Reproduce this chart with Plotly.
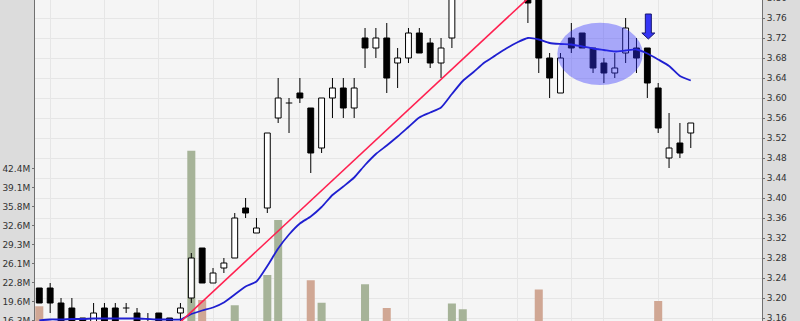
import plotly.graph_objects as go

# ---------------- data ----------------
idx = list(range(61))
opens = [3.22, 3.22, 3.19, 3.18, 3.16, 3.15, 3.18, 3.18, 3.18, 3.17,
         3.15, 3.17, 3.16, 3.17, 3.20, 3.30, 3.23, 3.26, 3.28, 3.38,
         3.33, 3.38, 3.56, 3.59, 3.61, 3.58, 3.50, 3.60, 3.62, 3.58,
         3.72, 3.70, 3.72, 3.67, 3.68, 3.73, 3.71, 3.67, 3.72, 3.82,
         3.86, 3.90, 3.93, 3.92, 3.89, 3.84, 3.81, 3.68, 3.61, 3.72,
         3.73, 3.70, 3.67, 3.65, 3.69, 3.70, 3.70, 3.62, 3.48, 3.51, 3.53]
highs = [3.22, 3.23, 3.20, 3.20, 3.16, 3.19, 3.19, 3.19, 3.19, 3.18,
         3.17, 3.17, 3.16, 3.19, 3.29, 3.30, 3.26, 3.28, 3.37, 3.40,
         3.36, 3.53, 3.64, 3.60, 3.64, 3.58, 3.60, 3.64, 3.64, 3.64,
         3.74, 3.74, 3.75, 3.70, 3.74, 3.74, 3.72, 3.72, 3.84, 3.88,
         3.92, 3.95, 3.98, 3.96, 3.92, 3.85, 3.82, 3.69, 3.69, 3.75,
         3.73, 3.70, 3.68, 3.69, 3.76, 3.72, 3.70, 3.63, 3.57, 3.55, 3.55]
lows = [3.19, 3.17, 3.13, 3.13, 3.13, 3.14, 3.13, 3.14, 3.17, 3.14,
        3.13, 3.13, 3.13, 3.15, 3.19, 3.23, 3.23, 3.25, 3.28, 3.36,
        3.33, 3.37, 3.55, 3.53, 3.59, 3.45, 3.49, 3.56, 3.56, 3.56,
        3.66, 3.68, 3.61, 3.62, 3.67, 3.69, 3.66, 3.64, 3.70, 3.81,
        3.85, 3.88, 3.90, 3.87, 3.83, 3.75, 3.65, 3.60, 3.61, 3.69,
        3.70, 3.65, 3.63, 3.64, 3.67, 3.65, 3.60, 3.53, 3.46, 3.48, 3.50]
closes = [3.19, 3.19, 3.14, 3.15, 3.14, 3.17, 3.14, 3.15, 3.18, 3.15,
          3.14, 3.14, 3.14, 3.18, 3.28, 3.23, 3.25, 3.27, 3.36, 3.37,
          3.34, 3.53, 3.60, 3.59, 3.60, 3.49, 3.60, 3.62, 3.58, 3.62,
          3.70, 3.72, 3.64, 3.68, 3.73, 3.69, 3.67, 3.70, 3.82, 3.86,
          3.90, 3.93, 3.92, 3.89, 3.85, 3.79, 3.68, 3.64, 3.68, 3.70,
          3.70, 3.66, 3.65, 3.66, 3.74, 3.68, 3.63, 3.54, 3.50, 3.49, 3.55]
volume_m = [18.8, 14.0, 12.5, 11.0, 9.5, 10.0, 11.5, 10.5, 9.0, 10.0,
            8.5, 9.5, 8.0, 13.5, 45.5, 19.9, 14.5, 12.0, 19.0, 15.0,
            13.0, 24.2, 33.6, 15.5, 14.0, 23.3, 19.4, 13.0, 12.5, 14.0,
            22.6, 14.5, 18.5, 12.0, 15.0, 13.5, 12.0, 14.0, 19.3, 18.3,
            15.0, 14.0, 13.0, 15.5, 14.5, 16.0, 21.7, 15.0, 13.5, 12.5,
            11.0, 12.0, 10.5, 11.5, 15.5, 13.0, 16.0, 19.7, 15.0, 12.0, 11.0]
ma = [3.155, 3.157, 3.157, 3.158, 3.158, 3.159, 3.159, 3.159, 3.159, 3.159,
      3.158, 3.157, 3.157, 3.157, 3.168, 3.175, 3.181, 3.191, 3.207, 3.223,
      3.233, 3.264, 3.299, 3.327, 3.349, 3.363, 3.382, 3.406, 3.423, 3.441,
      3.466, 3.488, 3.505, 3.523, 3.542, 3.561, 3.571, 3.581, 3.608, 3.634,
      3.652, 3.671, 3.685, 3.699, 3.711, 3.720, 3.717, 3.710, 3.708, 3.707,
      3.703, 3.699, 3.696, 3.693, 3.695, 3.697, 3.689, 3.677, 3.664, 3.644, 3.635]
trend_x = [13, 45]
trend_y = [3.152, 3.799]

vol_tickvals = [16.3, 19.5625, 22.825, 26.0875, 29.35, 32.6125, 35.875, 39.1375, 42.4]
vol_ticktext = ["16.3M", "19.6M", "22.8M", "26.1M", "29.3M", "32.6M", "35.8M", "39.1M", "42.4M"]
price_ticks = [3.16, 3.20, 3.24, 3.28, 3.32, 3.36, 3.40, 3.44, 3.48, 3.52,
               3.56, 3.60, 3.64, 3.68, 3.72, 3.76]
grid_x = [1, 6, 11, 16, 20, 24, 34, 39, 44, 49, 52, 57, 62]

# ---------------- styles ----------------
UP_VOL = "#a6b398"
DN_VOL = "#d0a794"
FONT = dict(family="DejaVu Sans", size=9, color="#333333")
GRID = "#e6e6e6"
AXIS = "#707070"
BODY_W = 0.54

# volume colour: close vs previous close
vol_colors = []
for i in idx:
    ref = closes[i - 1] if i > 0 else opens[i]
    vol_colors.append(UP_VOL if closes[i] >= ref else DN_VOL)

# wick segments (outside bodies) and doji lines
wx, wy = [], []
dx, dy = [], []
bx, bh, bb, bc = [], [], [], []
for i in idx:
    o, h, l, c = opens[i], highs[i], lows[i], closes[i]
    top, bot = max(o, c), min(o, c)
    if h > top:
        wx += [i, i, None]; wy += [top, h, None]
    if l < bot:
        wx += [i, i, None]; wy += [l, bot, None]
    if abs(c - o) < 1e-9:
        dx += [i - BODY_W / 2 - 0.03, i + BODY_W / 2 + 0.03, None]; dy += [o, o, None]
    else:
        bx.append(i); bb.append(bot); bh.append(top - bot)
        bc.append("#ffffff" if c > o else "#000000")

fig = go.Figure()
fig.add_trace(go.Bar(x=idx, y=volume_m, width=0.74, marker=dict(color=vol_colors, line=dict(width=0)),
                     yaxis="y", hoverinfo="skip"))
fig.add_trace(go.Scatter(x=wx, y=wy, mode="lines", line=dict(color="#000000", width=1),
                         yaxis="y2", hoverinfo="skip"))
fig.add_trace(go.Bar(x=bx, y=bh, base=bb, width=BODY_W,
                     marker=dict(color=bc, line=dict(color="#000000", width=1)),
                     yaxis="y2", hoverinfo="skip"))
fig.add_trace(go.Scatter(x=dx, y=dy, mode="lines", line=dict(color="#000000", width=1),
                         yaxis="y2", hoverinfo="skip"))
fig.add_trace(go.Scatter(x=idx, y=ma, mode="lines", line=dict(color="#1f1fd0", width=1.8, shape="spline", smoothing=0.6),
                         yaxis="y2", hoverinfo="skip"))
fig.add_trace(go.Scatter(x=trend_x, y=trend_y, mode="lines", line=dict(color="#ff2050", width=1.6),
                         yaxis="y2", hoverinfo="skip"))

shapes = [
    dict(type="circle", xref="x", yref="y2", x0=47.71, x1=55.58, y0=3.626, y1=3.7506,
         fillcolor="rgba(51,51,255,0.40)", line=dict(width=0), layer="above"),
    dict(type="path", xref="x", yref="y2", xsizemode="pixel", ysizemode="pixel",
         xanchor=56, yanchor=highs[56],
         path="M -2,34 L 4,34 L 4,15 L 7.5,15 L 1,9 L -5.5,15 L -2,15 Z",
         fillcolor="#3535f5", line=dict(color="#16166e", width=1), layer="above"),
]

fig.update_layout(
    width=800, height=321,
    margin=dict(l=35, r=38, t=0, b=0, pad=0, autoexpand=False),
    paper_bgcolor="#dcdcdc", plot_bgcolor="#f5f5f5",
    showlegend=False, barmode="overlay",
    xaxis=dict(range=[-0.396, 66.56], tickvals=grid_x, showticklabels=False, ticks="",
               showgrid=True, gridcolor=GRID, gridwidth=1, zeroline=False, showline=False,
               automargin=False),
    yaxis=dict(range=[16.29, 71.35], side="left", tickvals=vol_tickvals, ticktext=vol_ticktext,
               showgrid=False, zeroline=False, showline=True, linecolor=AXIS, linewidth=1,
               ticks="outside", ticklen=2, tickcolor=AXIS, tickfont=FONT,
               ticklabeloverflow="allow", automargin=False),
    yaxis2=dict(range=[3.154, 3.796], overlaying="y", side="right", tickvals=price_ticks,
                ticktext=[f"{v:.2f}" for v in price_ticks],
                showgrid=True, gridcolor=GRID, gridwidth=1, zeroline=False,
                showline=True, linecolor=AXIS, linewidth=1,
                ticks="outside", ticklen=2, tickcolor=AXIS, tickfont=FONT,
                ticklabeloverflow="allow", automargin=False),
    shapes=shapes,
    annotations=[dict(text="3.80", xref="paper", yref="paper", x=1, y=1 + 2 / 321,
                      xanchor="left", yanchor="middle", xshift=3, showarrow=False, font=FONT)],
)

fig.write_html("out.html")
